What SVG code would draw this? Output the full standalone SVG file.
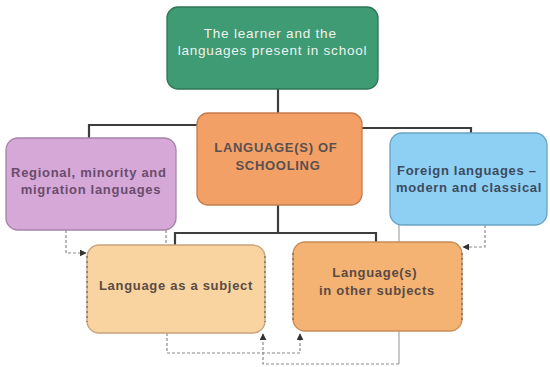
<svg xmlns="http://www.w3.org/2000/svg" width="550" height="367" viewBox="0 0 550 367">
  <style>
    .box { stroke-width: 1.3; }
    .lbl { font-family: "Liberation Sans", Arial, sans-serif; font-size: 13px; font-weight: bold; letter-spacing: 0.7px; text-anchor: middle; }
    .trunk { fill: none; stroke: #3d3d3d; stroke-width: 2.2; }
    .dot { fill: none; stroke: #8a8a8a; stroke-width: 1.2; stroke-dasharray: 3 2; }
    .thin { fill: none; stroke: #a6a6a6; stroke-width: 1.2; }
    .edge { fill: none; stroke: #555; stroke-width: 1; stroke-dasharray: 2 3; }
  </style>
  <defs>
    <marker id="tip" viewBox="0 0 10 10" refX="9" refY="5" markerWidth="7" markerHeight="7" markerUnits="userSpaceOnUse" orient="auto">
      <path d="M0 0 L10 5 L0 10 Z" fill="#333"/>
    </marker>
  </defs>
  <rect width="550" height="367" fill="#fff"/>

  <!-- connectors sit behind the boxes -->
  <g id="connectors">
    <path class="trunk" d="M278 89 V113"/>
    <path class="trunk" d="M278 125 H89 V138"/>
    <path class="trunk" d="M278 128 H471 V133"/>
    <path class="trunk" d="M278 205 V233"/>
    <path class="trunk" d="M175 245 V233 H376 V242"/>
    <path class="dot" d="M66 230 V253 H86" marker-end="url(#tip)"/>
    <path class="dot" d="M166 230 V245"/>
    <path class="dot" d="M167 333 V353 H300 V334" marker-end="url(#tip)"/>
    <path class="thin" d="M399 225 V364"/>
    <path class="dot" d="M399 364 H263 V334" marker-end="url(#tip)"/>
    <path class="dot" d="M485 225 V247 H463" marker-end="url(#tip)"/>
  </g>

  <g id="learner">
    <rect class="box" x="167" y="7" width="211" height="82" rx="11" fill="#3e9b73" stroke="#2d7656"/>
    <text class="lbl" font-weight="normal" style="font-weight:normal;font-size:13.5px;letter-spacing:0.8px" fill="#eef2ef">
      <tspan x="272.5" y="38">The learner and the</tspan>
      <tspan x="272.5" y="55">languages present in school</tspan>
    </text>
  </g>

  <g id="schooling">
    <rect class="box" x="197" y="113" width="165" height="92" rx="11" fill="#f3a066" stroke="#c47d4c"/>
    <text class="lbl" fill="#5a5050">
      <tspan x="278" y="152">LANGUAGE(S) OF</tspan>
      <tspan x="278" y="170">SCHOOLING</tspan>
    </text>
  </g>

  <g id="regional">
    <rect class="box" x="6" y="138" width="170" height="92" rx="12" fill="#d6a8d8" stroke="#a783a9"/>
    <text class="lbl" fill="#6a4c6d">
      <tspan x="91" y="177">Regional, minority and</tspan>
      <tspan x="91" y="194">migration languages</tspan>
    </text>
  </g>

  <g id="foreign">
    <rect class="box" x="390" y="133" width="157" height="92" rx="12" fill="#8ed0f4" stroke="#6aa3c4"/>
    <text class="lbl" fill="#3d4b5e">
      <tspan x="469" y="175">Foreign languages –</tspan>
      <tspan x="469" y="192">modern and classical</tspan>
    </text>
  </g>

  <g id="subject">
    <rect class="box" x="87" y="245" width="178" height="88" rx="12" fill="#f9d3a0" stroke="#c9a27c"/>
    <path class="edge" d="M87 256 V322 M265 256 V322"/>
    <text class="lbl" fill="#5a4c44">
      <tspan x="176" y="290">Language as a subject</tspan>
    </text>
  </g>

  <g id="other-subjects">
    <rect class="box" x="293" y="242" width="169" height="89" rx="12" fill="#f4b373" stroke="#c88c58"/>
    <path class="edge" d="M293 253 V320 M462 253 V320"/>
    <text class="lbl" fill="#5a4a44">
      <tspan x="377" y="277">Language(s)</tspan>
      <tspan x="377" y="295">in other subjects</tspan>
    </text>
  </g>
</svg>
